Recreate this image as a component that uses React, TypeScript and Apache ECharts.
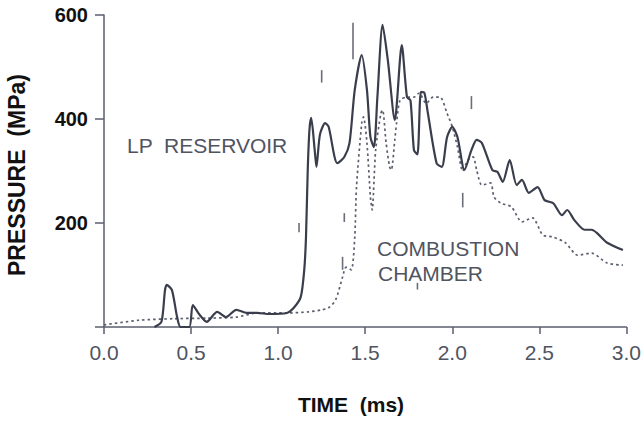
import React, { useEffect, useRef } from "react";
import * as echarts from "echarts";

// LP reservoir (solid line)
const lpTime = [
  0.29, 0.33, 0.35, 0.36, 0.39, 0.42, 0.44, 0.49, 0.51, 0.55, 0.59, 0.65, 0.7, 0.76, 0.82, 0.88, 0.95,
  1.05, 1.09, 1.13, 1.15, 1.16, 1.17, 1.18, 1.19, 1.21, 1.22, 1.24, 1.27, 1.29, 1.34, 1.38, 1.41, 1.44,
  1.48, 1.51, 1.53, 1.55, 1.57, 1.6, 1.63, 1.67, 1.71, 1.74, 1.76, 1.78, 1.8, 1.82, 1.84, 1.86, 1.91,
  1.94, 1.97, 2.0, 2.03, 2.07, 2.11, 2.14, 2.17, 2.23, 2.26, 2.29, 2.33, 2.37, 2.4, 2.44, 2.49, 2.53,
  2.58, 2.63, 2.66, 2.7, 2.76, 2.8, 2.83, 2.89, 2.98,
];
const lpPressure = [
  0, 10, 70, 81, 71, 19, 0, 0, 42, 23, 10, 29, 19, 33, 27, 27, 25,
  27, 37, 58, 110, 173, 302, 380, 402, 340, 308, 370, 392, 385, 315, 327, 354, 456,
  523, 456, 365, 346, 442, 581, 513, 398, 542, 442, 436, 340, 332, 452, 450, 411, 315,
  308, 365, 385, 365, 302, 340, 360, 354, 302, 298, 279, 321, 273, 283, 258, 269, 244,
  238, 215, 225, 206, 187, 187, 181, 162, 148,
];

// Combustion chamber (dotted line)
const ccTime = [
  0.0, 0.2, 0.4, 0.6, 0.76, 0.88, 1.05, 1.17, 1.25, 1.29, 1.33, 1.37, 1.39, 1.42, 1.44, 1.45, 1.48,
  1.49, 1.51, 1.53, 1.54, 1.56, 1.59, 1.6, 1.62, 1.64, 1.65, 1.67, 1.68, 1.7, 1.74, 1.78, 1.81, 1.85,
  1.89, 1.93, 1.97, 2.0, 2.03, 2.06, 2.09, 2.12, 2.14, 2.17, 2.22, 2.24, 2.28, 2.34, 2.4, 2.46, 2.52,
  2.58, 2.65, 2.72, 2.8, 2.89, 2.98,
];
const ccPressure = [
  4, 13, 16, 17, 19, 27, 27, 29, 33, 37, 52, 96, 115, 110, 173, 269, 392,
  404, 354, 250, 225, 340, 411, 417, 354, 308, 302, 360, 392, 436, 442, 442, 450, 430,
  442, 442, 411, 385, 346, 300, 321, 327, 302, 273, 277, 250, 238, 231, 202, 210, 177,
  173, 162, 138, 142, 123, 119,
];

const xTicks = ["0.0", "0.5", "1.0", "1.5", "2.0", "2.5", "3.0"];
const yTicks = ["", "200", "400", "600"];

// small stray scan marks of the original figure: [time, pressure from, pressure to]
const strayMarks = [
  [1.12, 182, 200],
  [1.25, 470, 494],
  [1.43, 515, 585],
  [1.38, 202, 219],
  [1.37, 110, 135],
  [2.06, 230, 258],
  [2.11, 419, 444],
  [1.8, 72, 85],
];

const AXIS_COLOR = "#5b5f6e";
const TEXT_GREY = "#50545f";

export default function App() {
  const ref = useRef<HTMLDivElement>(null);

  useEffect(() => {
    document.body.style.margin = "0";
    if (!ref.current) return;
    const chart = echarts.init(ref.current, undefined, { renderer: "svg" });
    const lpData = lpTime.map((t, i) => [t, lpPressure[i]]);
    const ccData = ccTime.map((t, i) => [t, ccPressure[i]]);
    const textBase = (text: string, font: string, fill: string, align: string) => ({
      text,
      font,
      fill,
      align,
      verticalAlign: "middle",
      textAlign: align,
      textVerticalAlign: "middle",
    });
    chart.setOption({
      animation: false,
      backgroundColor: "#ffffff",
      grid: { left: 104, right: 17, top: 15, bottom: 94 },
      xAxis: {
        type: "value",
        min: 0,
        max: 3,
        interval: 0.5,
        axisLine: { show: true, lineStyle: { color: AXIS_COLOR, width: 1.5 } },
        axisTick: { show: true, length: 7, lineStyle: { color: AXIS_COLOR, width: 1.5 } },
        axisLabel: {
          margin: 15,
          color: TEXT_GREY,
          fontFamily: "Liberation Sans",
          fontSize: 21,
          formatter: (v: number) => xTicks[Math.round(v / 0.5)] ?? "",
        },
        splitLine: { show: false },
      },
      yAxis: {
        type: "value",
        min: 0,
        max: 600,
        interval: 200,
        axisLine: { show: true, lineStyle: { color: AXIS_COLOR, width: 1.5 } },
        axisTick: { show: true, length: 9, lineStyle: { color: AXIS_COLOR, width: 1.5 } },
        axisLabel: {
          margin: 16,
          color: "#111111",
          fontFamily: "Liberation Sans",
          fontWeight: "bold",
          fontSize: 20,
          formatter: (v: number) => yTicks[Math.round(v / 200)] ?? "",
        },
        splitLine: { show: false },
      },
      series: [
        {
          name: "LP RESERVOIR",
          type: "line",
          data: lpData,
          showSymbol: false,
          smooth: 0.25,
          lineStyle: { color: "#3a3e4c", width: 2.2 },
          z: 3,
        },
        {
          name: "COMBUSTION CHAMBER",
          type: "line",
          data: ccData,
          showSymbol: false,
          smooth: 0.25,
          lineStyle: { color: "#5b5f6e", width: 1.7, type: [2.5, 3] },
          z: 2,
        },
        {
          name: "marks",
          type: "custom",
          silent: true,
          data: strayMarks,
          renderItem: (params: any, api: any) => {
            const a = api.coord([api.value(0), api.value(1)]);
            const b = api.coord([api.value(0), api.value(2)]);
            return {
              type: "line",
              shape: { x1: a[0], y1: a[1], x2: b[0], y2: b[1] },
              style: { stroke: "#6a6e7a", lineWidth: 1.6 },
            };
          },
          z: 1,
        },
      ],
      graphic: [
        {
          type: "text",
          x: 17,
          y: 175,
          rotation: Math.PI / 2,
          style: textBase("PRESSURE  (MPa)", "bold 23px 'Liberation Sans'", "#111111", "center"),
        },
        {
          type: "text",
          x: 351,
          y: 404,
          style: textBase("TIME  (ms)", "bold 21px 'Liberation Sans'", "#111111", "center"),
        },
        {
          type: "text",
          x: 127,
          y: 145,
          style: { ...textBase("LP  RESERVOIR", "21px 'Liberation Sans'", TEXT_GREY, "left") },
        },
        {
          type: "text",
          x: 377,
          y: 248,
          style: textBase("COMBUSTION", "21px 'Liberation Sans'", TEXT_GREY, "left"),
        },
        {
          type: "text",
          x: 378,
          y: 273,
          style: textBase("CHAMBER", "21px 'Liberation Sans'", TEXT_GREY, "left"),
        },
      ],
    });
    return () => chart.dispose();
  }, []);

  return <div ref={ref} style={{ width: 644, height: 421 }} />;
}
